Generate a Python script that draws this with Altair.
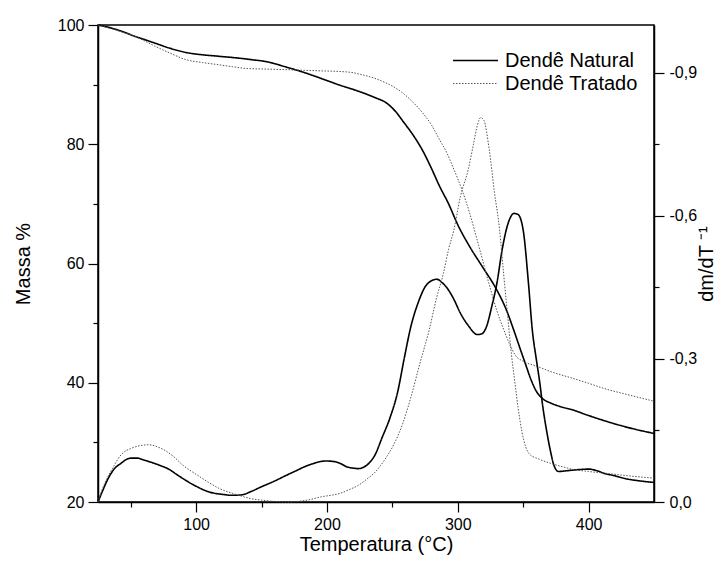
import altair as alt
import pandas as pd

SERIES = ["Dendê Natural", "Dendê Tratado"]

# TG curves (mass %, left axis)
nat_tg_T = [25, 35, 45, 52, 60, 68, 80, 92, 105, 115, 130, 142, 155, 168, 183, 196, 210, 224, 237, 245,
            252, 259, 266, 273, 280, 286, 293, 300, 310, 319, 330, 337, 343, 348, 352, 356, 360, 365, 371,
            380, 387, 400, 414, 430, 450]
nat_tg_M = [100, 99.5, 98.8, 98.2, 97.6, 97.0, 96.1, 95.4, 95.0, 94.8, 94.5, 94.2, 93.8, 93.0, 92.0, 91.0,
            89.9, 88.9, 87.8, 87.0, 85.6, 83.6, 81.5, 79.0, 75.9, 73.0, 70.0, 66.5, 62.5, 59.4, 55.5, 52.3,
            48.7, 45.5, 43.0, 40.5, 38.6, 37.3, 36.6, 35.9, 35.5, 34.5, 33.5, 32.5, 31.5]

trt_tg_T = [25, 35, 45, 52, 60, 68, 80, 92, 105, 115, 128, 139, 155, 170, 183, 196, 210, 220, 226, 236,
            245, 252, 259, 266, 273, 280, 286, 292, 297, 303, 309, 316, 324, 330, 335, 340, 344, 350, 360,
            372, 387, 400, 414, 430, 450]
trt_tg_M = [100, 99.4, 98.7, 98.2, 97.4, 96.5, 95.3, 94.2, 93.7, 93.4, 93.0, 92.7, 92.6, 92.5, 92.4, 92.3,
            92.2, 92.0, 91.7, 91.1, 90.3, 89.5, 88.4, 87.0, 85.3, 83.2, 80.8, 78.4, 75.8, 72.5, 68.5, 63.0,
            56.5, 52.0, 49.0, 46.3, 44.6, 43.6, 42.8, 41.8, 40.8, 39.9, 38.9, 38.0, 36.9]

# DTG curves (dm/dT, right axis)
nat_dtg_T = [25, 28, 32, 37, 42, 50, 55, 60, 67, 73, 79, 85, 90, 100, 110, 120, 128, 135, 142, 150, 160,
             169, 176, 183, 190, 199, 205, 210, 215, 220, 224, 228, 232, 237, 242, 248, 254, 259, 264, 270,
             275, 280, 284, 288, 292, 297, 302, 308, 315, 318, 322, 326, 330, 334, 338, 343, 346, 350, 354,
             357, 360, 362.5, 365, 368, 371, 373.5, 377, 385, 393, 400, 406, 412, 420, 428, 437, 450]
nat_dtg_D = [0, -0.02, -0.045, -0.068, -0.08, -0.092, -0.092, -0.088, -0.082, -0.076, -0.069, -0.058,
             -0.049, -0.033, -0.021, -0.016, -0.014, -0.015, -0.022, -0.032, -0.044, -0.056, -0.065,
             -0.074, -0.081, -0.086, -0.085, -0.081, -0.074, -0.071, -0.070, -0.073, -0.081, -0.10,
             -0.134, -0.175, -0.23, -0.30, -0.366, -0.42, -0.451, -0.464, -0.467, -0.46, -0.448, -0.425,
             -0.396, -0.37, -0.351, -0.352, -0.368, -0.41, -0.46, -0.53, -0.58, -0.605, -0.603, -0.57,
             -0.46, -0.36, -0.30, -0.254, -0.20, -0.148, -0.105, -0.077, -0.064, -0.066, -0.068, -0.069,
             -0.066, -0.060, -0.055, -0.049, -0.045, -0.041]

trt_dtg_T = [25, 28, 32, 37, 43, 50, 57, 64, 70, 75, 82, 90, 100, 109, 118, 128, 135, 142, 150, 161, 170,
             177, 185, 196, 205, 210, 217, 224, 230, 237, 244, 251, 258, 264, 271, 278, 284, 289, 293, 297,
             302, 308, 312, 315, 317.5, 320, 324, 328, 332, 335, 338, 341, 343.5, 346, 349, 352, 355, 362,
             371, 380, 387, 400, 414, 430, 450]
trt_dtg_D = [0, -0.025, -0.05, -0.075, -0.10, -0.112, -0.118, -0.12, -0.116, -0.11, -0.097, -0.077,
             -0.058, -0.042, -0.028, -0.018, -0.012, -0.007, -0.004, -0.001, 0.0, -0.001, -0.004, -0.011,
             -0.015, -0.018, -0.026, -0.035, -0.047, -0.063, -0.088, -0.12, -0.165, -0.218, -0.29, -0.359,
             -0.43, -0.479, -0.53, -0.57, -0.64, -0.697, -0.75, -0.79, -0.806, -0.80, -0.74, -0.65, -0.57,
             -0.48, -0.394, -0.31, -0.254, -0.20, -0.148, -0.115, -0.10, -0.09, -0.081, -0.074, -0.069,
             -0.064, -0.060, -0.055, -0.050]

tg = pd.concat([
    pd.DataFrame({"T": nat_tg_T, "v": nat_tg_M, "serie": SERIES[0]}),
    pd.DataFrame({"T": trt_tg_T, "v": trt_tg_M, "serie": SERIES[1]}),
])
dtg = pd.concat([
    pd.DataFrame({"T": nat_dtg_T, "v": nat_dtg_D, "serie": SERIES[0]}),
    pd.DataFrame({"T": trt_dtg_T, "v": trt_dtg_D, "serie": SERIES[1]}),
])

FONT = "Liberation Sans"

legend = alt.Legend(
    title=None, orient="none", legendX=354, legendY=24, symbolType="stroke", symbolSize=2025,
    symbolStrokeWidth=1.4, labelFont=FONT, labelFontSize=20, labelColor="black", labelOffset=6,
    clipHeight=23, rowPadding=0, padding=0, labelLimit=300,
)

color = alt.Color("serie:N", scale=alt.Scale(domain=SERIES, range=["#000000", "#555555"]), legend=legend)
dash = alt.StrokeDash("serie:N", scale=alt.Scale(domain=SERIES, range=[[1, 0], [1.5, 1.5]]), legend=legend)
width = alt.StrokeWidth("serie:N", scale=alt.Scale(domain=SERIES, range=[1.6, 1.0]), legend=None)

x = alt.X(
    "T:Q",
    scale=alt.Scale(domain=[25, 450], nice=False, zero=False),
    axis=alt.Axis(
        title="Temperatura (°C)", values=[50, 100, 150, 200, 250, 300, 350, 400],
        labelExpr="datum.value % 100 == 0 ? datum.value : ''",
        tickSize={"condition": {"test": "datum.value % 100 == 0", "value": 10}, "value": 5},
        labelPadding=4, titlePadding=2,
    ),
)

y_left = alt.Y(
    "v:Q",
    scale=alt.Scale(domain=[20, 100], nice=False, zero=False),
    axis=alt.Axis(
        title="Massa %", values=[20, 30, 40, 50, 60, 70, 80, 90, 100],
        labelExpr="datum.value % 20 == 0 ? datum.value : ''",
        tickSize={"condition": {"test": "datum.value % 20 == 0", "value": 10}, "value": 5},
        labelPadding=4, titlePadding=24,
    ),
)

y_right = alt.Y(
    "v:Q",
    scale=alt.Scale(domain=[-1, 0], nice=False, zero=False, reverse=True),
    axis=alt.Axis(
        orient="right", title="dm/dT ⁻¹",
        values=[0, -0.15, -0.3, -0.45, -0.6, -0.75, -0.9],
        labelExpr="abs(round(datum.value*100)) % 30 == 0 ? replace(replace(format(datum.value, '.1f'), '.', ','), '\u2212', '-') : ''",
        tickSize={"condition": {"test": "abs(round(datum.value*100)) % 30 == 0", "value": 10}, "value": 5},
        labelPadding=5, titlePadding=0, titleAngle=270, titleBaseline="top", labelAlign="left",
    ),
)

tg_chart = alt.Chart(tg).mark_line(interpolate="monotone").encode(
    x=x, y=y_left, color=color, strokeDash=dash, strokeWidth=width, order="T:Q"
)
dtg_chart = alt.Chart(dtg).mark_line(interpolate="monotone").encode(
    x=x, y=y_right, color=color, strokeDash=dash, strokeWidth=width, order="T:Q"
)

chart = alt.layer(tg_chart, dtg_chart).resolve_scale(y="independent").properties(
    width=556, height=477,
    padding={"left": 90, "top": 17, "right": 63, "bottom": 55},
    autosize="none",
    background="white",
).configure_view(
    stroke="black", strokeWidth=1.5
).configure_axis(
    grid=False, labelFont=FONT, labelFontSize=16, labelColor="black",
    titleFont=FONT, titleFontSize=20, titleFontWeight="normal", titleColor="black",
    domainColor="black", domainWidth=1.5, tickColor="black", tickWidth=1.2,
)

chart.save("out.html", embed_options={"renderer": "svg", "actions": False})
